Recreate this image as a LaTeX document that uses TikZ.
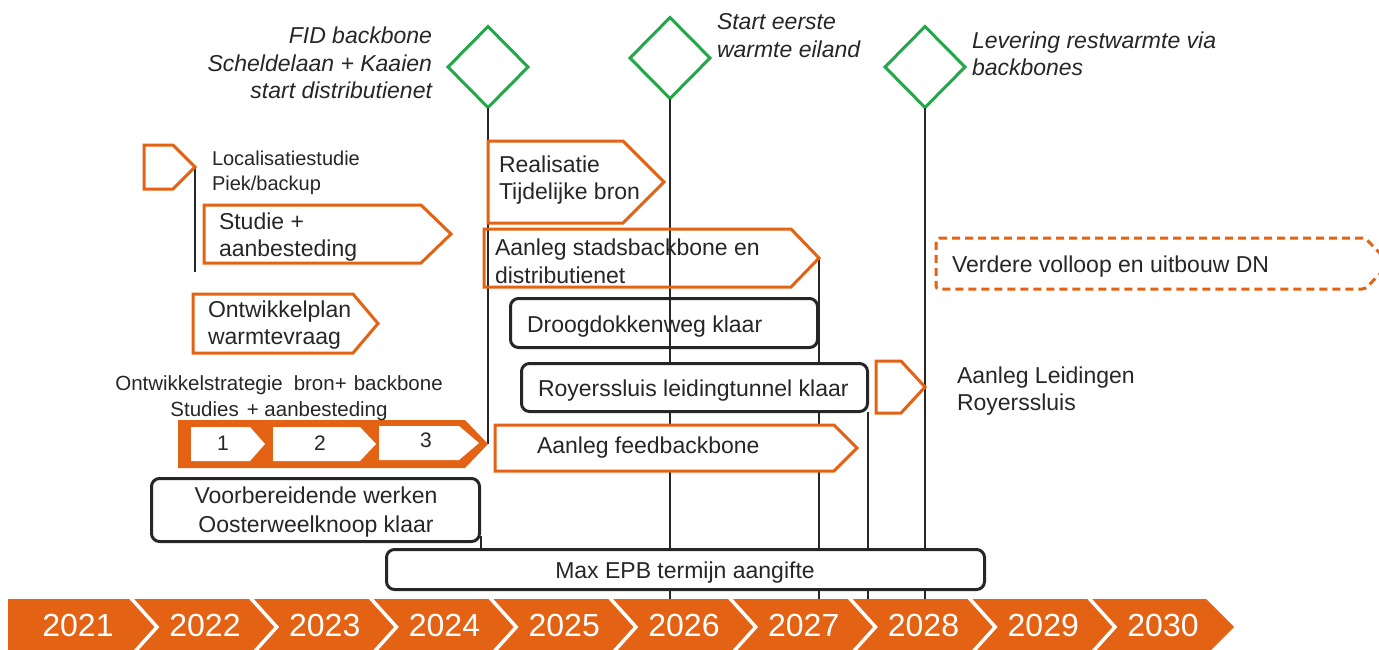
\documentclass[tikz,border=0pt]{standalone}
\usepackage{fontspec}
\setmainfont{Liberation Sans}
\usetikzlibrary{shapes.geometric}

\definecolor{brand}{RGB}{227,98,19}
\definecolor{mile}{RGB}{34,168,72}
\definecolor{ink}{RGB}{38,38,38}

% corner points of a flat-left chevron: name, left, right, tip, top, bottom
\newcommand{\chevpts}[6]{%
  \coordinate (#1-nw) at (#2,#5);
  \coordinate (#1-ne) at (#3,#5);
  \coordinate (#1-tip) at (#4,{(#5+#6)/2});
  \coordinate (#1-se) at (#3,#6);
  \coordinate (#1-sw) at (#2,#6);
}
\newcommand{\chevoutline}[2][]{%
  \draw[chev,#1] (#2-nw) -- (#2-ne) -- (#2-tip) -- (#2-se) -- (#2-sw) -- cycle;
}

\tikzset{
  chev/.style={draw=brand, line width=3pt, line join=miter},
  mstone/.style={diamond, draw=mile, line width=3pt, minimum width=80pt,
    minimum height=81pt, inner sep=0pt, outer sep=0pt},
  msbox/.style={rectangle, draw=ink, line width=3pt, rounded corners=8pt,
    fill=white, inner sep=0pt, outer sep=0pt},
  vline/.style={draw=ink, line width=1.3pt},
  lbl/.style={text=ink, inner sep=0pt, outer sep=0pt,
    font=\fontsize{23}{27}\selectfont},
  small/.style={lbl, font=\fontsize{20.5}{24}\selectfont},
  note/.style={lbl, font=\fontsize{23}{27}\selectfont\itshape},
  yearlbl/.style={text=white, inner sep=0pt, anchor=base,
    font=\fontsize{32}{36}\selectfont},
}

\begin{document}
\begin{tikzpicture}[x=1pt,y=-1pt]
\useasboundingbox (0,0) rectangle (1379,649);

% ---------- reference points ----------
\coordinate (tl-top) at (0,599);
\chevpts{loc}{144}{173}{195}{145}{189}
\chevpts{stu}{204}{421}{451}{205}{263}
\chevpts{rea}{488}{623}{664}{141}{223}
\chevpts{sb}{484}{791}{819}{229}{287}
\chevpts{ver}{936}{1365}{1390}{238}{289}
\chevpts{ont}{193}{353}{378}{294}{353}
\chevpts{lei}{876}{901}{925}{361}{413}
\chevpts{fb}{495}{834}{857}{425}{471}
\chevpts{s3}{178}{465}{488}{420}{468}
\coordinate (loc-end) at (195,272);
\coordinate (vb-stub) at (481,536);

% ---------- milestones ----------
\node[mstone] (d1) at (488,67) {};
\node[mstone] (d2) at (670,58) {};
\node[mstone] (d3) at (925,67) {};

% ---------- milestone boxes (positions only, drawn later) ----------
\path (664,323) node[msbox, fill=none, minimum width=307pt, minimum height=49pt] (dro) {};
\path (694.5,387.5) coordinate (roy-c);
\path (315.5,510) coordinate (vb-c);
\path (685.5,569.5) coordinate (epb-c);

% ---------- vertical guide lines ----------
\draw[vline] (loc-tip) -- (loc-end);
\draw[vline] (d1.south) -- (s3-tip);
\draw[vline] (d2.south) -- (d2.south |- tl-top);
\draw[vline] (sb-tip) -- (sb-tip |- tl-top);
\draw[vline] (d3.south) -- (d3.south |- tl-top);
\draw[vline] (868,412) coordinate (roy-foot) -- (roy-foot |- tl-top);
\draw[vline] (vb-stub) -- (vb-stub |- epb-c) ;

% ---------- activity chevrons ----------
\chevoutline{loc}
\chevoutline{stu}
\chevoutline{rea}
\chevoutline{sb}
\chevoutline[dashed, dash pattern=on 8pt off 5pt, rounded corners=3pt]{ver}
\chevoutline{ont}
\chevoutline[fill=white]{lei}
\chevoutline[fill=white]{fb}

% three-phase chevron
\fill[brand] (s3-nw) -- (s3-ne) -- (s3-tip) -- (s3-se) -- (s3-sw) -- cycle;
\fill[white] (191,427) -- (250,427) -- (265,444) -- (250,461) -- (191,461) -- cycle;
\fill[white] (273,427) -- (360,427) -- (376,444) -- (360,461) -- (273,461) -- cycle;
\fill[white] (379,426) -- (459,426) -- (479,443) -- (459,460) -- (379,460) -- cycle;

% ---------- milestone boxes ----------
\node[msbox, minimum width=346pt, minimum height=48pt] (roy) at (roy-c) {};
\node[msbox, minimum width=328pt, minimum height=63pt] (vb) at (vb-c) {};
\node[msbox, minimum width=598pt, minimum height=40pt] (epb) at (epb-c) {};

% ---------- timeline ----------
\fill[brand] (8,599) -- (1206,599) -- (1234,627) -- (1206,655) -- (8,655) -- cycle;
\foreach \k in {0,...,8}{
  \draw[white, line width=3.5pt] ({129+119.75*\k},596) -- ({157+119.75*\k},627) -- ({129+119.75*\k},658);
}
\node[yearlbl] (y2021) at (78,636) {2021};
\foreach \yr [count=\i from 0] in {2022,2023,2024,2025,2026,2027,2028,2029,2030}{
  \node[yearlbl] (y\yr) at ({205+119.75*\i},636) {\yr};
}

% ---------- milestone notes ----------
\node[note, anchor=base east] (n1a) at (432,43) {FID backbone};
\node[note, anchor=base east] (n1b) at (432,71) {Scheldelaan + Kaaien};
\node[note, anchor=base east] (n1c) at (432,98) {start distributienet};
\node[note, anchor=base west] (n2a) at (717,29) {Start eerste};
\node[note, anchor=base west] (n2b) at (717,57) {warmte eiland};
\node[note, anchor=base west] (n3a) at (972,48) {Levering restwarmte via};
\node[note, anchor=base west] (n3b) at (972,75) {backbones};

% ---------- activity labels ----------
\node[lbl, anchor=base west, font=\fontsize{20}{24}\selectfont] (t-loc1) at (212,165) {Localisatiestudie};
\node[lbl, anchor=base west, font=\fontsize{20}{24}\selectfont] (t-loc2) at (212,190) {Piek/backup};
\node[lbl, anchor=base west] (t-stu1) at (219,229) {Studie +};
\node[lbl, anchor=base west] (t-stu2) at (219,256) {aanbesteding};
\node[lbl, anchor=base west] (t-rea1) at (499,172) {Realisatie};
\node[lbl, anchor=base west] (t-rea2) at (499,199) {Tijdelijke bron};
\node[lbl, anchor=base west] (t-sb1) at (495,255) {Aanleg stadsbackbone en};
\node[lbl, anchor=base west] (t-sb2) at (495,283) {distributienet};
\node[lbl, anchor=base west] (t-ver) at (952,272) {Verdere volloop en uitbouw DN};
\node[lbl, anchor=base west] (t-ont1) at (208,317) {Ontwikkelplan};
\node[lbl, anchor=base west] (t-ont2) at (208,344) {warmtevraag};
\node[lbl, anchor=base west] (t-dro) at (527,332) {Droogdokkenweg klaar};
\node[lbl, anchor=base west] (t-roy) at (538,396) {Royerssluis leidingtunnel klaar};
\node[lbl, anchor=base west] (t-lei1) at (957,383) {Aanleg Leidingen};
\node[lbl, anchor=base west] (t-lei2) at (957,410) {Royerssluis};
\node[small, anchor=base] (t-str1) at (279,390) {Ontwikkelstrategie\hspace{11pt}bron+\hspace{7pt}backbone};
\node[small, anchor=base] (t-str2) at (279,416) {Studies\hspace{8pt}+ aanbesteding};
\node[lbl, anchor=base, font=\fontsize{21}{24}\selectfont] (t-p1) at (223,450.5) {1};
\node[lbl, anchor=base, font=\fontsize{21}{24}\selectfont] (t-p2) at (320,450.5) {2};
\node[lbl, anchor=base, font=\fontsize{21}{24}\selectfont] (t-p3) at (426,447.5) {3};
\node[lbl, anchor=base west] (t-fb) at (537,453) {Aanleg feedbackbone};
\node[lbl, anchor=base] (t-vb1) at (316,503) {Voorbereidende werken};
\node[lbl, anchor=base] (t-vb2) at (316,532) {Oosterweelknoop klaar};
\node[lbl, anchor=base] (t-epb) at (685,578) {Max EPB termijn aangifte};
\end{tikzpicture}
\end{document}
